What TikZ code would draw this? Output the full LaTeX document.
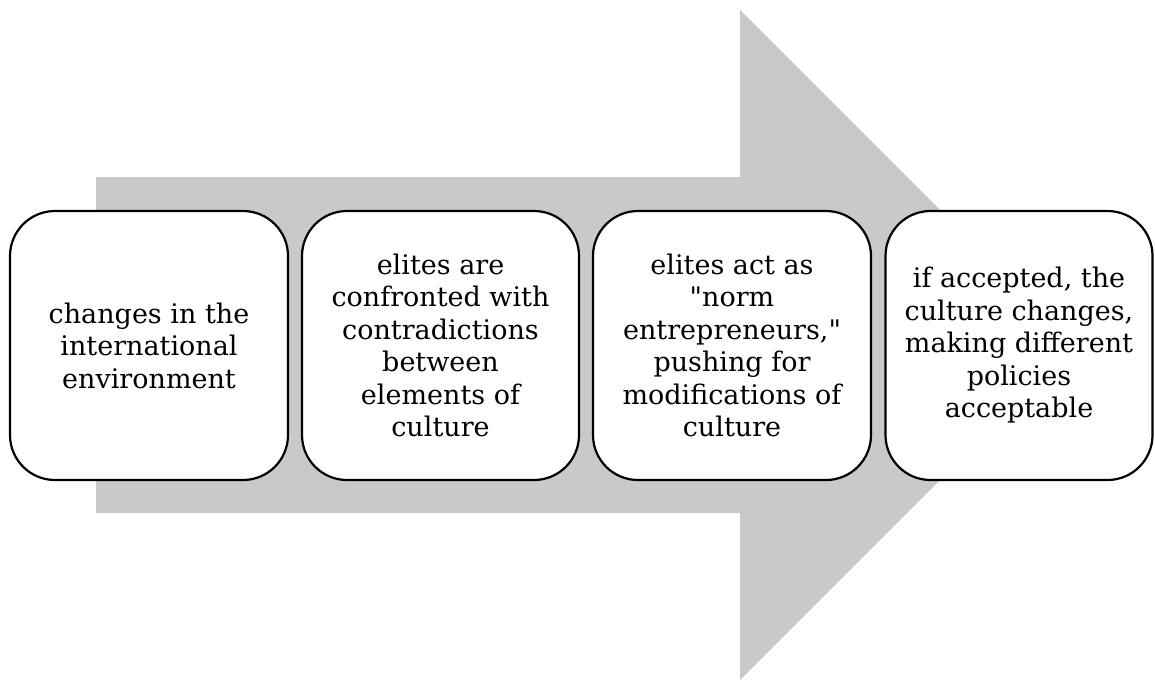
\documentclass[tikz,border=0pt]{standalone}
\usepackage{fontspec}
\setmainfont{DejaVu Serif}
\definecolor{shaftgray}{RGB}{201,201,201}
\begin{document}
\begin{tikzpicture}[x=1pt,y=-1pt,
  stepbox/.style={draw=black, fill=white, line width=2.2pt, rounded corners=45pt,
    minimum height=269pt, align=center, inner sep=4pt,
    font=\fontsize{27}{32.5}\selectfont}]
  \useasboundingbox (0,0) rectangle (1155,680);
  % background block arrow
  \fill[shaftgray] (96,177) -- (740,177) -- (740,10) -- (1075,345)
    -- (740,680) -- (740,513) -- (96,513) -- cycle;
  % process steps
  \node[stepbox, minimum width=278pt] (s1) at (149,345.5)
    {changes in the\\international\\environment};
  \node[stepbox, minimum width=277pt] (s2) at (440.5,345.5)
    {elites are\\confronted with\\contradictions\\between\\elements of\\culture};
  \node[stepbox, minimum width=278pt] (s3) at (732,345.5)
    {elites act as\\\textquotedbl norm\\entrepreneurs,\textquotedbl\\pushing for\\modifications of\\culture};
  \node[stepbox, minimum width=267pt] (s4) at (1019,345.5)
    {if accepted, the\\culture changes,\\making different\\policies\\acceptable};
\end{tikzpicture}
\end{document}
